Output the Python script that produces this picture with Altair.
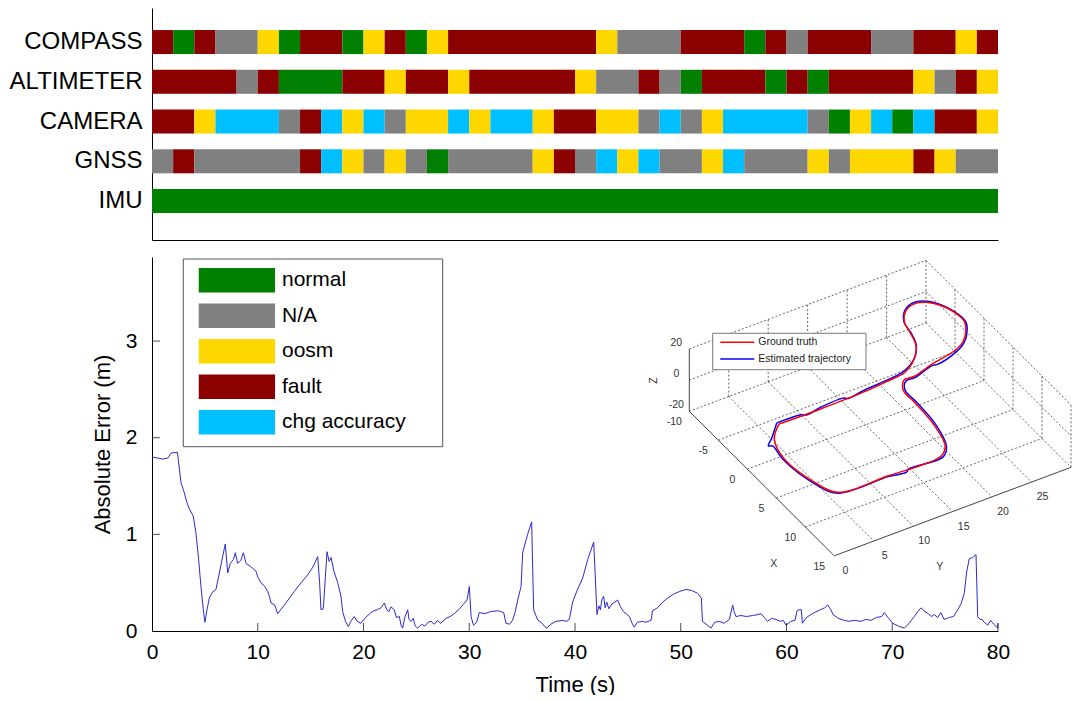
import altair as alt
import pandas as pd

FONT = "Liberation Sans"

# ---------------- status timeline data ----------------
SENSORS = ["COMPASS", "ALTIMETER", "CAMERA", "GNSS", "IMU"]
STATUS = ["normal", "N/A", "oosm", "fault", "chg accuracy"]
STATUS_COLORS = ["#008000", "#808080", "#FFD700", "#8B0000", "#00BFFF"]

COMPASS_SEG = [(0, 2, "fault"), (2, 4, "normal"), (4, 6, "fault"), (6, 10, "N/A"), (10, 12, "oosm"),
               (12, 14, "normal"), (14, 18, "fault"), (18, 20, "normal"), (20, 22, "oosm"), (22, 24, "fault"),
               (24, 26, "normal"), (26, 28, "oosm"), (28, 42, "fault"), (42, 44, "oosm"), (44, 50, "N/A"),
               (50, 56, "fault"), (56, 58, "normal"), (58, 60, "fault"), (60, 62, "N/A"), (62, 68, "fault"),
               (68, 72, "N/A"), (72, 76, "fault"), (76, 78, "oosm"), (78, 80, "fault")]
ALTIMETER_SEG = [(0, 8, "fault"), (8, 10, "N/A"), (10, 12, "fault"), (12, 18, "normal"), (18, 22, "fault"),
                 (22, 24, "oosm"), (24, 28, "fault"), (28, 30, "oosm"), (30, 40, "fault"), (40, 42, "oosm"),
                 (42, 46, "N/A"), (46, 48, "fault"), (48, 50, "N/A"), (50, 52, "normal"), (52, 58, "fault"),
                 (58, 60, "normal"), (60, 62, "fault"), (62, 64, "normal"), (64, 72, "fault"), (72, 74, "oosm"),
                 (74, 76, "N/A"), (76, 78, "fault"), (78, 80, "oosm")]
CAMERA_SEG = [(0, 4, "fault"), (4, 6, "oosm"), (6, 12, "chg accuracy"), (12, 14, "N/A"), (14, 16, "fault"),
              (16, 18, "chg accuracy"), (18, 20, "oosm"), (20, 22, "chg accuracy"), (22, 24, "N/A"),
              (24, 28, "oosm"), (28, 30, "chg accuracy"), (30, 32, "oosm"), (32, 36, "chg accuracy"),
              (36, 38, "oosm"), (38, 42, "fault"), (42, 46, "oosm"), (46, 48, "N/A"), (48, 50, "chg accuracy"),
              (50, 52, "N/A"), (52, 54, "oosm"), (54, 62, "chg accuracy"), (62, 64, "N/A"), (64, 66, "normal"),
              (66, 68, "oosm"), (68, 70, "chg accuracy"), (70, 72, "normal"), (72, 74, "chg accuracy"),
              (74, 78, "fault"), (78, 80, "oosm")]
GNSS_SEG = [(0, 2, "N/A"), (2, 4, "fault"), (4, 14, "N/A"), (14, 16, "fault"), (16, 18, "chg accuracy"),
            (18, 20, "oosm"), (20, 22, "N/A"), (22, 24, "oosm"), (24, 26, "N/A"), (26, 28, "normal"),
            (28, 36, "N/A"), (36, 38, "oosm"), (38, 40, "fault"), (40, 42, "N/A"), (42, 44, "chg accuracy"),
            (44, 46, "oosm"), (46, 48, "chg accuracy"), (48, 52, "N/A"), (52, 54, "oosm"),
            (54, 56, "chg accuracy"), (56, 62, "N/A"), (62, 64, "oosm"), (64, 66, "N/A"), (66, 72, "oosm"),
            (72, 74, "fault"), (74, 76, "oosm"), (76, 80, "N/A")]
IMU_SEG = [(0, 80, "normal")]

# ---------------- absolute error series ----------------
TIME_S = [0.0, 0.5, 1.0, 1.5, 1.8, 2.4, 2.75, 3.0, 3.3, 3.55, 3.9, 4.15, 4.4, 4.63, 4.85, 5.0, 5.2, 5.42, 5.7,
          6.05, 6.37, 6.7, 6.93, 7.16, 7.4, 7.7, 7.88, 8.1, 8.4, 8.64, 8.89, 9.3, 9.83, 10.0, 10.3, 10.6, 10.94,
          11.1, 11.25, 11.6, 11.88, 12.6, 13.46, 14.1, 14.72, 15.2, 15.67, 15.85, 15.98, 16.2, 16.55, 16.75,
          16.93, 17.2, 17.56, 17.87, 18.03, 18.3, 18.57, 18.8, 19.13, 19.4, 19.76, 20.2, 20.7, 21.0, 21.3,
          21.65, 21.97, 22.2, 22.4, 22.6, 22.91, 23.1, 23.39, 23.55, 23.7, 23.9, 24.18, 24.3, 24.5, 24.7,
          24.9, 25.12, 25.5, 25.8, 26.1, 26.38, 26.7, 27.0, 27.3, 27.8, 28.2, 28.59, 29.0, 29.4, 29.79,
          30.01, 30.17, 30.4, 30.7, 30.95, 31.5, 32.0, 32.69, 33.0, 33.26, 33.47, 33.8, 34.1, 34.35, 34.58,
          34.9, 35.05, 35.52, 35.9, 36.09, 36.3, 36.5, 36.8, 37.1, 37.35, 37.7, 38.2, 38.8, 39.2, 39.46,
          39.78, 40.2, 40.73, 41.2, 41.77, 42.08, 42.25, 42.4, 42.55, 42.71, 42.85, 43.0, 43.2, 43.5, 44.04,
          44.3, 44.6, 45.14, 45.4, 45.6, 45.9, 46.3, 46.7, 47.19, 47.33, 47.8, 48.3, 48.76, 49.3, 49.9, 50.5,
          51.0, 51.6, 51.95, 52.05, 52.4, 52.86, 53.2, 53.65, 54.1, 54.6, 54.91, 55.05, 55.22, 55.7, 56.2,
          56.8, 57.3, 57.59, 57.9, 58.2, 58.6, 59.0, 59.4, 59.7, 59.95, 60.4, 60.8, 61.0, 61.2, 61.4, 61.5,
          61.9, 62.3, 62.63, 63.2, 63.6, 63.9, 64.2, 64.4, 64.9, 65.47, 65.9, 66.4, 67.04, 67.5, 68.0, 68.5,
          69.0, 69.25, 69.6, 70.04, 70.6, 71.14, 71.6, 72.09, 72.4, 72.72, 73.1, 73.4, 73.7, 73.98, 74.3,
          74.6, 74.9, 75.4, 75.8, 76.19, 76.5, 76.81, 77.05, 77.29, 77.6, 77.92, 78.08, 78.3, 78.5, 78.7,
          79.03, 79.3, 79.6, 79.97, 80.0]
ABS_ERR = [1.80, 1.79, 1.78, 1.79, 1.84, 1.85, 1.53, 1.45, 1.33, 1.26, 1.19, 1.02, 0.75, 0.46, 0.22, 0.09, 0.22,
           0.34, 0.40, 0.43, 0.60, 0.78, 0.90, 0.60, 0.70, 0.74, 0.81, 0.70, 0.73, 0.81, 0.70, 0.67, 0.62, 0.56,
           0.50, 0.47, 0.41, 0.36, 0.29, 0.27, 0.18, 0.28, 0.41, 0.50, 0.58, 0.66, 0.77, 0.50, 0.22, 0.23, 0.82,
           0.72, 0.76, 0.62, 0.50, 0.36, 0.20, 0.10, 0.045, 0.10, 0.15, 0.10, 0.08, 0.14, 0.19, 0.21, 0.22,
           0.24, 0.29, 0.22, 0.20, 0.25, 0.22, 0.14, 0.15, 0.06, 0.03, 0.14, 0.22, 0.12, 0.10, 0.13, 0.05,
           0.03, 0.07, 0.05, 0.09, 0.10, 0.07, 0.11, 0.08, 0.13, 0.15, 0.18, 0.22, 0.27, 0.32, 0.46, 0.15,
           0.06, 0.09, 0.19, 0.18, 0.20, 0.21, 0.20, 0.19, 0.08, 0.07, 0.11, 0.20, 0.32, 0.46, 0.81, 1.00,
           1.13, 0.22, 0.16, 0.11, 0.09, 0.05, 0.03, 0.07, 0.10, 0.11, 0.10, 0.12, 0.30, 0.42, 0.55, 0.74,
           0.92, 0.17, 0.26, 0.22, 0.33, 0.36, 0.24, 0.30, 0.23, 0.28, 0.32, 0.25, 0.20, 0.15, 0.08, 0.04,
           0.09, 0.10, 0.09, 0.11, 0.21, 0.24, 0.30, 0.34, 0.38, 0.41, 0.43, 0.42, 0.39, 0.34, 0.10, 0.07,
           0.03, 0.09, 0.10, 0.08, 0.12, 0.27, 0.20, 0.15, 0.16, 0.15, 0.16, 0.17, 0.18, 0.14, 0.10, 0.13,
           0.12, 0.10, 0.11, 0.06, 0.10, 0.11, 0.21, 0.22, 0.22, 0.08, 0.14, 0.17, 0.19, 0.22, 0.24, 0.27,
           0.22, 0.17, 0.13, 0.11, 0.10, 0.11, 0.10, 0.12, 0.11, 0.14, 0.15, 0.19, 0.14, 0.08, 0.05, 0.03,
           0.08, 0.15, 0.20, 0.24, 0.20, 0.18, 0.15, 0.17, 0.14, 0.19, 0.12, 0.14, 0.15, 0.22, 0.28, 0.39,
           0.62, 0.75, 0.76, 0.79, 0.15, 0.12, 0.12, 0.09, 0.06, 0.11, 0.07, 0.03, 0.08]
TIME_TICKS = [0, 10, 20, 30, 40, 50, 60, 70, 80]
ERR_TICKS = [0, 1, 2, 3]

# ---------------- inset 3-D trajectory (world coordinates, z = 0) ----------------
GT_X = [-0.25, -0.2, -0.3, -0.55, -0.8, -2.1, -3.7, -5.4, -7.2, -8.55, -9.0, -8.65, -7.55, -6.1, -4.5, -3.4,
        -1.9, -1.2, -0.6, 0.1, 0.1, 0.7, 1.6, 3.4, 7.2, 10.3, 11.4, 11.4, 11.1, 8.7, 4.4, 1.4, -0.25]
GT_Y = [4.2, 9.5, 15.0, 18.2, 20.5, 22.7, 24.1, 24.7, 25.2, 26.4, 27.8, 29.0, 30.1, 30.7, 30.8, 30.2,
        28.7, 27.1, 23.9, 21.1, 19.8, 19.15, 18.7, 18.7, 18.4, 17.5, 16.2, 9.4, 3.3, 2.07, 1.46, 2.39, 4.2]
EST_X = [-0.5, -0.4, -0.1, -0.4, -0.5, -0.2, -0.5, -0.7, -1.0, -2.2, -3.8, -5.5, -7.3, -8.7, -9.2, -8.8,
         -7.6, -6.1, -4.4, -3.3, -1.8, -1.0, -0.3, -0.4, 0.3, 0.3, 0.8, 1.6, 3.4, 7.2, 10.4, 11.6, 11.5,
         11.8, 11.5, 11.2, 8.7, 4.4, 2.2, 2.0, 1.2, -0.5]
EST_Y = [4.1, 7.0, 7.6, 9.6, 12.5, 13.0, 15.1, 18.2, 20.5, 22.8, 24.2, 24.8, 25.2, 26.4, 27.8, 29.1,
         30.2, 30.8, 30.9, 30.3, 28.8, 27.2, 24.4, 23.6, 21.1, 19.9, 19.3, 18.9, 18.9, 18.6, 17.6, 16.3, 12.0,
         11.5, 9.4, 3.2, 1.9, 1.3, 1.6, 1.2, 2.2, 4.1]
INSET_X_TICKS = [-10, -5, 0, 5, 10, 15]
INSET_Y_TICKS = [0, 5, 10, 15, 20, 25]
INSET_Z_TICKS = [-20, 0, 20]
INSET_LEGEND = ["Ground truth", "Estimated trajectory"]
INSET_COLORS = ["#ff0000", "#0000ff"]

# ---------------- layout constants ----------------
W = 846
H_TOP = 232
H_BOT = 374
# oblique projection of the inset box (pixels inside bottom plot)
P0 = (537.3, 154.3)
EX = (5.8, 5.78)
EY = (7.89, -2.95)
EZ = (0.0, -1.56)


def proj(x, y, z):
    u, v, w = x + 10, y, z + 20
    return (P0[0] + EX[0] * u + EY[0] * v + EZ[0] * w,
            P0[1] + EX[1] * u + EY[1] * v + EZ[1] * w)


# ---------------- top: status timeline ----------------
seg_rows = []
for name, segs in zip(SENSORS, [COMPASS_SEG, ALTIMETER_SEG, CAMERA_SEG, GNSS_SEG, IMU_SEG]):
    for s, e, st in segs:
        seg_rows.append({"sensor": name, "start": s, "end": e, "status": st})
seg_df = pd.DataFrame(seg_rows)

top = alt.Chart(seg_df).mark_bar(strokeWidth=0).encode(
    x=alt.X("start:Q", scale=alt.Scale(domain=[0, 80], nice=False, zero=False),
            axis=alt.Axis(labels=False, ticks=False, title=None, grid=False, domainColor="black")),
    x2="end:Q",
    y=alt.Y("sensor:N", sort=SENSORS,
            scale=alt.Scale(paddingInner=0.396, paddingOuter=0.616, align=0.45),
            axis=alt.Axis(title=None, ticks=False, labelFontSize=24, labelPadding=10,
                          domainColor="black", labelColor="black")),
    color=alt.Color("status:N", scale=alt.Scale(domain=STATUS, range=STATUS_COLORS), legend=None),
).properties(width=W, height=H_TOP)

# ---------------- bottom: absolute error ----------------
err_df = pd.DataFrame({"t": TIME_S, "e": ABS_ERR})
xs = alt.Scale(domain=[0, 80], nice=False, zero=False)
ys = alt.Scale(domain=[0, 3.87], nice=False, zero=False)

err_line = alt.Chart(err_df).mark_line(color="#2a2ad0", strokeWidth=1).encode(
    x=alt.X("t:Q", scale=xs,
            axis=alt.Axis(title="Time (s)", values=TIME_TICKS, format="d", tickSize=0, labelPadding=10,
                          labelFontSize=21, titleFontSize=22, titleFontWeight="normal",
                          titlePadding=12, grid=False, domainColor="black", labelFlush=False)),
    y=alt.Y("e:Q", scale=ys,
            axis=alt.Axis(title="Absolute Error (m)", values=ERR_TICKS, format="d", tickSize=0,
                          labelPadding=15, labelFontSize=21, titleFontSize=22, titleFontWeight="normal",
                          titlePadding=11, grid=False, domainColor="black", labelFlush=False)),
)
xt_df = pd.DataFrame({"t": TIME_TICKS[1:], "e": [0] * (len(TIME_TICKS) - 1)})
xticks = alt.Chart(xt_df).mark_tick(orient="vertical", size=8, thickness=1, color="black", yOffset=-4).encode(
    x=alt.X("t:Q", scale=xs), y=alt.Y("e:Q", scale=ys))
yt_df = pd.DataFrame({"t": [0] * 3, "e": ERR_TICKS[1:]})
yticks = alt.Chart(yt_df).mark_tick(orient="horizontal", size=8, thickness=1, color="black", xOffset=4).encode(
    x=alt.X("t:Q", scale=xs), y=alt.Y("e:Q", scale=ys))
main = alt.layer(err_line, xticks, yticks)

# legend of status colours
leg_df = pd.DataFrame({"status": STATUS, "idx": list(range(len(STATUS)))})
leg_box = alt.Chart(pd.DataFrame({"a": [0]})).mark_rect(fill="white", stroke="#555555", strokeWidth=1).encode(
    x=alt.value(31.3), x2=alt.value(290.7), y=alt.value(2), y2=alt.value(189.7))
leg_y = alt.Y("idx:Q", scale=alt.Scale(domain=[0, 4], range=[23.2, 165.3]), axis=None)
leg_sw = alt.Chart(leg_df).mark_point(shape="M-1,-0.32H1V0.32H-1Z", filled=True, size=5822,
                                      strokeWidth=0, opacity=1).encode(
    x=alt.value(84.9), y=leg_y,
    color=alt.Color("status:N", scale=alt.Scale(domain=STATUS, range=STATUS_COLORS), legend=None))
leg_tx = alt.Chart(leg_df).mark_text(align="left", baseline="middle", fontSize=21, color="black").encode(
    x=alt.value(130), y=leg_y, text="status:N")
legend = alt.layer(leg_box, leg_sw, leg_tx)

# inset 3-D plot
isx = alt.Scale(domain=[0, W], nice=False, zero=False)
isy = alt.Scale(domain=[0, H_BOT], nice=False, zero=False, reverse=True)


def XY():
    return dict(x=alt.X("px:Q", scale=isx, axis=None), y=alt.Y("py:Q", scale=isy, axis=None))


grid_rows, axis_rows = [], []


def add(rows, key, a, b):
    for i, p in enumerate((a, b)):
        px, py = proj(*p)
        rows.append({"seg": key, "ord": i, "px": px, "py": py})


for x in [-10, -5, 0, 5, 10]:
    add(grid_rows, f"fx{x}", (x, 0, -20), (x, 30, -20))
for y in [5, 10, 15, 20, 25, 30]:
    add(grid_rows, f"fy{y}", (-10, y, -20), (15, y, -20))
for y in [5, 10, 15, 20, 25, 30]:
    add(grid_rows, f"wxv{y}", (-10, y, -20), (-10, y, 20))
for z in [0, 20]:
    add(grid_rows, f"wxh{z}", (-10, 0, z), (-10, 30, z))
for x in [-5, 0, 5, 10, 15]:
    add(grid_rows, f"wyv{x}", (x, 30, -20), (x, 30, 20))
for z in [0, 20]:
    add(grid_rows, f"wyh{z}", (-10, 30, z), (15, 30, z))
add(axis_rows, "ax", (-10, 0, -20), (15, 0, -20))
add(axis_rows, "ay", (15, 0, -20), (15, 30, -20))
add(axis_rows, "az", (-10, 0, -20), (-10, 0, 20))

grid = alt.Chart(pd.DataFrame(grid_rows)).mark_line(strokeDash=[2, 2], strokeWidth=0.7, color="#222222").encode(
    **XY(), detail="seg:N", order="ord:Q")
axes3 = alt.Chart(pd.DataFrame(axis_rows)).mark_line(strokeWidth=1, color="#444444").encode(
    **XY(), detail="seg:N", order="ord:Q")


def traj_df(xs_, ys_):
    rows = []
    for i, (x, y) in enumerate(zip(xs_, ys_)):
        px, py = proj(x, y, 0)
        rows.append({"ord": i, "px": px, "py": py})
    return pd.DataFrame(rows)


est = alt.Chart(traj_df(EST_X, EST_Y)).mark_line(color=INSET_COLORS[1], strokeWidth=1.5,
                                                 interpolate="catmull-rom").encode(**XY(), order="ord:Q")
gt = alt.Chart(traj_df(GT_X, GT_Y)).mark_line(color=INSET_COLORS[0], strokeWidth=1.5,
                                              interpolate="catmull-rom").encode(**XY(), order="ord:Q")

lab_rows = []
for x in INSET_X_TICKS:
    px, py = proj(x, 0, -20)
    lab_rows.append({"px": px - 15, "py": py + 11, "txt": str(x)})
for y in INSET_Y_TICKS:
    px, py = proj(15, y, -20)
    lab_rows.append({"px": px + 11, "py": py + 15, "txt": str(y)})
for z in INSET_Z_TICKS:
    px, py = proj(-10, 0, z)
    lab_rows.append({"px": px - 13, "py": py - 6, "txt": str(z)})
px, py = proj(2.5, 0, -20)
lab_rows.append({"px": px + 12, "py": py + 80, "txt": "X"})
px, py = proj(15, 15, -20)
lab_rows.append({"px": px - 13, "py": py + 55, "txt": "Y"})
ticklabs = alt.Chart(pd.DataFrame(lab_rows)).mark_text(fontSize=10.5, color="#333333", baseline="middle").encode(
    **XY(), text="txt:N")
px, py = proj(-10, 0, 0)
zlab = alt.Chart(pd.DataFrame([{"px": px - 35, "py": py + 0.5, "txt": "Z"}])).mark_text(
    fontSize=10.5, color="#333333", angle=270, baseline="middle").encode(**XY(), text="txt:N")

ilbox = alt.Chart(pd.DataFrame([{"px": 560.7, "px2": 714.0, "py": 76.3, "py2": 112.7}])).mark_rect(
    fill="white", stroke="#555555", strokeWidth=0.8).encode(**XY(), x2="px2:Q", y2="py2:Q")
il_df = pd.DataFrame({"name": INSET_LEGEND, "py": [85.3, 102.0], "px": [568.3, 568.3],
                      "px2": [602.3, 602.3], "tx": [606.3, 606.3]})
il_lines = alt.Chart(il_df).mark_rule(strokeWidth=1.5).encode(
    **XY(), x2="px2:Q",
    color=alt.Color("name:N", scale=alt.Scale(domain=INSET_LEGEND, range=INSET_COLORS), legend=None))
il_text = alt.Chart(il_df).mark_text(align="left", baseline="middle", fontSize=10.5, color="#222222").encode(
    x=alt.X("tx:Q", scale=isx, axis=None), y=alt.Y("py:Q", scale=isy, axis=None), text="name:N")

inset = alt.layer(grid, axes3, ilbox, il_lines, il_text, est, gt, ticklabs, zlab)

bottom = alt.layer(main, legend, inset).resolve_scale(x="independent", y="independent", color="independent") \
    .properties(width=W, height=H_BOT)

chart = alt.vconcat(top, bottom, spacing=17).properties(
    padding={"left": 1, "top": 0, "right": 0, "bottom": 0}
).configure(font=FONT).configure_view(stroke=None).configure_axis(
    labelColor="black", titleColor="black", domainColor="black", grid=False)

chart.save("out.html", embed_options={"renderer": "svg", "actions": False})
